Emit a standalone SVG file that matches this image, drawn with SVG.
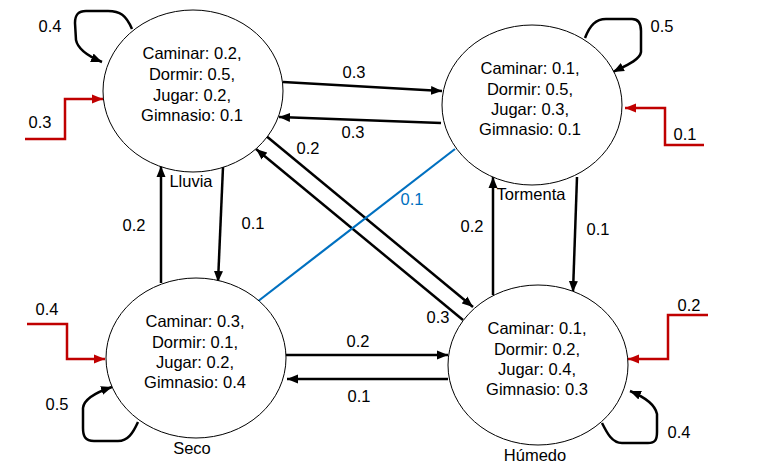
<svg xmlns="http://www.w3.org/2000/svg" width="759" height="471" viewBox="0 0 759 471">
<style>
.node{fill:#fff;stroke:#000;stroke-width:1}
.t{font-family:"Liberation Sans",Arial,sans-serif;font-size:16.5px;fill:#000;text-anchor:middle}
.name{font-family:"Liberation Sans",Arial,sans-serif;font-size:16.5px;fill:#000;text-anchor:middle}
.lbl{font-family:"Liberation Sans",Arial,sans-serif;font-size:16.5px;fill:#000;text-anchor:middle}
.blbl{fill:#0070C0}
.e{fill:none;stroke:#000;stroke-width:2.5;marker-end:url(#ah)}
.r{fill:none;stroke:#C00000;stroke-width:2.5;marker-end:url(#ahr)}
.b{fill:none;stroke:#0070C0;stroke-width:2.2}
</style>
<defs>
<marker id="ah" markerUnits="userSpaceOnUse" markerWidth="12" markerHeight="10" viewBox="0 0 12 10" refX="11" refY="5" orient="auto">
<path d="M0,0.5 L11,5 L0,9.5 Z" fill="#000"/>
</marker>
<marker id="ahr" markerUnits="userSpaceOnUse" markerWidth="12" markerHeight="10" viewBox="0 0 12 10" refX="11" refY="5" orient="auto">
<path d="M0,0.5 L11,5 L0,9.5 Z" fill="#C00000"/>
</marker>
</defs>
<rect width="759" height="471" fill="#fff"/>

<g id="connectors">
<path class="e" d="M283,82 L442,91"/>
<path class="e" d="M441,123 L279,117"/>
<text class="lbl" x="354" y="78">0.3</text>
<text class="lbl" x="353" y="138">0.3</text>
<path class="e" d="M223,167 L218,282"/>
<path class="e" d="M161,283 L161,166"/>
<text class="lbl" x="253" y="229">0.1</text>
<text class="lbl" x="134" y="231">0.2</text>
<path class="e" d="M265,135 L473,307"/>
<path class="e" d="M463,320 L256,149"/>
<text class="lbl" x="308" y="154">0.2</text>
<text class="lbl" x="438" y="323">0.3</text>
<path class="b" d="M257,302 L455,149"/>
<text class="lbl blbl" x="412" y="205">0.1</text>
<path class="e" d="M577,177 L573,292"/>
<path class="e" d="M493,295 L493,177"/>
<text class="lbl" x="598" y="235">0.1</text>
<text class="lbl" x="472" y="232">0.2</text>
<path class="e" d="M286,355 L448,355"/>
<path class="e" d="M448,379 L287,379"/>
<text class="lbl" x="358" y="347">0.2</text>
<text class="lbl" x="359" y="402">0.1</text>
<path class="e" d="M132,29 C126,15 120,11 108,11 L86,11 C78,11 75,15 75,23 L76,40 C78,50 90,57 102,62"/>
<text class="lbl" x="50" y="32">0.4</text>
<path class="e" d="M585,38 C590,25 596,19 606,19 L632,19 C639,19 641,24 641,31 L641,52 C640,60 625,66 613,72"/>
<text class="lbl" x="662" y="32">0.5</text>
<path class="e" d="M138,422 C133,433 128,441 118,441 L94,441 C85,441 83,436 83,428 L83,408 C84,398 100,391 112,387"/>
<text class="lbl" x="57" y="410">0.5</text>
<path class="e" d="M602,423 C607,433 612,443 622,443 L648,443 C655,443 657,440 657,432 L657,414 C655,404 642,396 630,391"/>
<text class="lbl" x="679" y="438">0.4</text>
<path class="r" d="M25,139 L65,139 L65,99 L103,99"/>
<text class="lbl" x="40" y="128">0.3</text>
<path class="r" d="M704,145 L665,145 L665,108 L625,108"/>
<text class="lbl" x="685" y="140">0.1</text>
<path class="r" d="M27,324 L67,324 L67,359 L105,359"/>
<text class="lbl" x="47" y="315">0.4</text>
<path class="r" d="M708,315 L668,315 L668,359 L628,359"/>
<text class="lbl" x="689" y="311">0.2</text>
</g>

<g id="lluvia">
<ellipse class="node" cx="193" cy="91" rx="90" ry="81"/>
<text class="t" x="192" y="59">Caminar: 0.2,</text>
<text class="t" x="192" y="80">Dormir: 0.5,</text>
<text class="t" x="192" y="101">Jugar: 0.2,</text>
<text class="t" x="192" y="121">Gimnasio: 0.1</text>
<text class="name" x="191" y="187">Lluvia</text>
</g>

<g id="tormenta">
<ellipse class="node" cx="532" cy="105" rx="90" ry="80"/>
<text class="t" x="530" y="74">Caminar: 0.1,</text>
<text class="t" x="530" y="95">Dormir: 0.5,</text>
<text class="t" x="530" y="115">Jugar: 0.3,</text>
<text class="t" x="530" y="135">Gimnasio: 0.1</text>
<text class="name" x="531" y="200">Tormenta</text>
</g>

<g id="seco">
<ellipse class="node" cx="196" cy="358" rx="90" ry="80"/>
<text class="t" x="195" y="327">Caminar: 0.3,</text>
<text class="t" x="195" y="348">Dormir: 0.1,</text>
<text class="t" x="195" y="368">Jugar: 0.2,</text>
<text class="t" x="195" y="388">Gimnasio: 0.4</text>
<text class="name" x="192" y="454">Seco</text>
</g>

<g id="humedo">
<ellipse class="node" cx="538" cy="365" rx="90" ry="80"/>
<text class="t" x="537" y="334">Caminar: 0.1,</text>
<text class="t" x="537" y="355">Dormir: 0.2,</text>
<text class="t" x="537" y="375">Jugar: 0.4,</text>
<text class="t" x="537" y="395">Gimnasio: 0.3</text>
<text class="name" x="535" y="461">Húmedo</text>
</g>
</svg>
